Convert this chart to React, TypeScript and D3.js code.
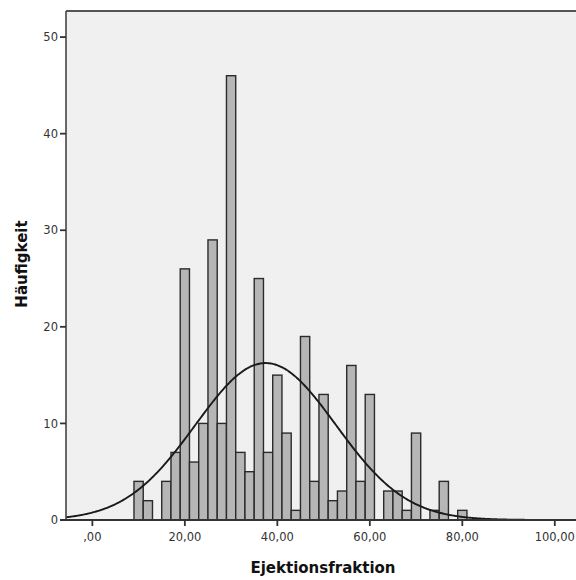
import React from "react";
import * as d3 from "d3";

// Histogram bins (lower edge, width 2) and counts
const binStarts = [9, 11, 13, 15, 17, 19, 21, 23, 25, 27, 29, 31, 33, 35, 37, 39, 41, 43, 45, 47, 49, 51, 53, 55, 57, 59, 61, 63, 65, 67, 69, 71, 73, 75, 77, 79];
const counts = [4, 2, 0, 4, 7, 26, 6, 10, 29, 10, 46, 7, 5, 25, 7, 15, 9, 1, 19, 4, 13, 2, 3, 16, 4, 13, 0, 3, 3, 1, 9, 0, 1, 4, 0, 1];
const binWidth = 2;
const xTicks = [0, 20, 40, 60, 80, 100];
const yTicks = [0, 10, 20, 30, 40, 50];
const xLabel = "Ejektionsfraktion";
const yLabel = "Häufigkeit";

const W = 576;
const H = 580;
const left = 66;
const top = 11;
const bottom = 520;
const right = 577;

export default function App() {
  const x = d3.scaleLinear().domain([-5.7, 104.8]).range([left, right]);
  const y = d3.scaleLinear().domain([0, 52.7]).range([bottom, top]);

  const n = d3.sum(counts);
  const centers = binStarts.map((s) => s + binWidth / 2);
  const mean = d3.sum(centers.map((c, i) => c * counts[i])) / n;
  const variance = d3.sum(centers.map((c, i) => counts[i] * (c - mean) ** 2)) / (n - 1);
  const sd = Math.sqrt(variance);
  const normal = (v: number) =>
    (n * binWidth) / (sd * Math.sqrt(2 * Math.PI)) * Math.exp(-((v - mean) ** 2) / (2 * sd * sd));
  const xs = d3.range(-5.7, 105, 0.25);
  const line = d3
    .line<number>()
    .x((v) => x(v))
    .y((v) => y(normal(v)))
    .curve(d3.curveBasis);

  const fmt = (v: number) => (v === 0 ? ",00" : v.toFixed(2).replace(".", ","));

  return (
    <svg
      width={W}
      height={H}
      style={{ position: "absolute", left: 0, top: 0, background: "#ffffff" }}
    >
      <defs>
        <pattern id="dots" width="4" height="4" patternUnits="userSpaceOnUse">
          <rect width="4" height="4" fill="#efefef" />
          <rect x="1" y="1" width="1" height="1" fill="#f6f6f6" />
          <rect x="3" y="3" width="1" height="1" fill="#f6f6f6" />
        </pattern>
        <clipPath id="plotClip">
          <rect x={left} y={top} width={right - left} height={bottom - top} />
        </clipPath>
      </defs>
      <rect x={left} y={top} width={right - left} height={bottom - top} fill="url(#dots)" />
      <g>
        {binStarts.map((s, i) =>
          counts[i] > 0 ? (
            <rect
              key={i}
              x={x(s)}
              y={y(counts[i])}
              width={x(s + binWidth) - x(s)}
              height={bottom - y(counts[i])}
              fill="#b6b6b6"
              stroke="#2b2b2b"
              strokeWidth={1.4}
            />
          ) : null
        )}
      </g>
      <path
        d={line(xs) || ""}
        fill="none"
        stroke="#1a1a1a"
        strokeWidth={1.9}
        clipPath="url(#plotClip)"
      />
      {/* frame */}
      <line x1={left} y1={top} x2={right} y2={top} stroke="#555" strokeWidth={2} />
      <line x1={left} y1={top} x2={left} y2={bottom} stroke="#444" strokeWidth={1.6} />
      <line x1={left - 6} y1={bottom} x2={right} y2={bottom} stroke="#333" strokeWidth={1.8} />
      {/* y ticks */}
      {yTicks.map((t) => (
        <g key={t}>
          <line x1={left - 6} x2={left} y1={y(t)} y2={y(t)} stroke="#333" strokeWidth={1.8} />
          <text
            x={left - 8}
            y={y(t)}
            dy="0.36em"
            textAnchor="end"
            fontFamily="DejaVu Sans"
            fontSize={11.5}
            fill="#333"
          >
            {t}
          </text>
        </g>
      ))}
      {/* x ticks */}
      {xTicks.map((t) => (
        <g key={t}>
          <line x1={x(t)} x2={x(t)} y1={bottom} y2={bottom + 6} stroke="#333" strokeWidth={1.8} />
          <text
            x={x(t)}
            y={bottom + 21}
            textAnchor="middle"
            fontFamily="DejaVu Sans"
            fontSize={11.5}
            fill="#333"
          >
            {fmt(t)}
          </text>
        </g>
      ))}
      <text
        x={323}
        y={573}
        textAnchor="middle"
        fontFamily="DejaVu Sans"
        fontWeight="bold"
        fontSize={15}
        fill="#111"
      >
        {xLabel}
      </text>
      <text
        transform={`translate(27, 264) rotate(-90)`}
        textAnchor="middle"
        fontFamily="DejaVu Sans"
        fontWeight="bold"
        fontSize={15}
        fill="#111"
      >
        {yLabel}
      </text>
    </svg>
  );
}
